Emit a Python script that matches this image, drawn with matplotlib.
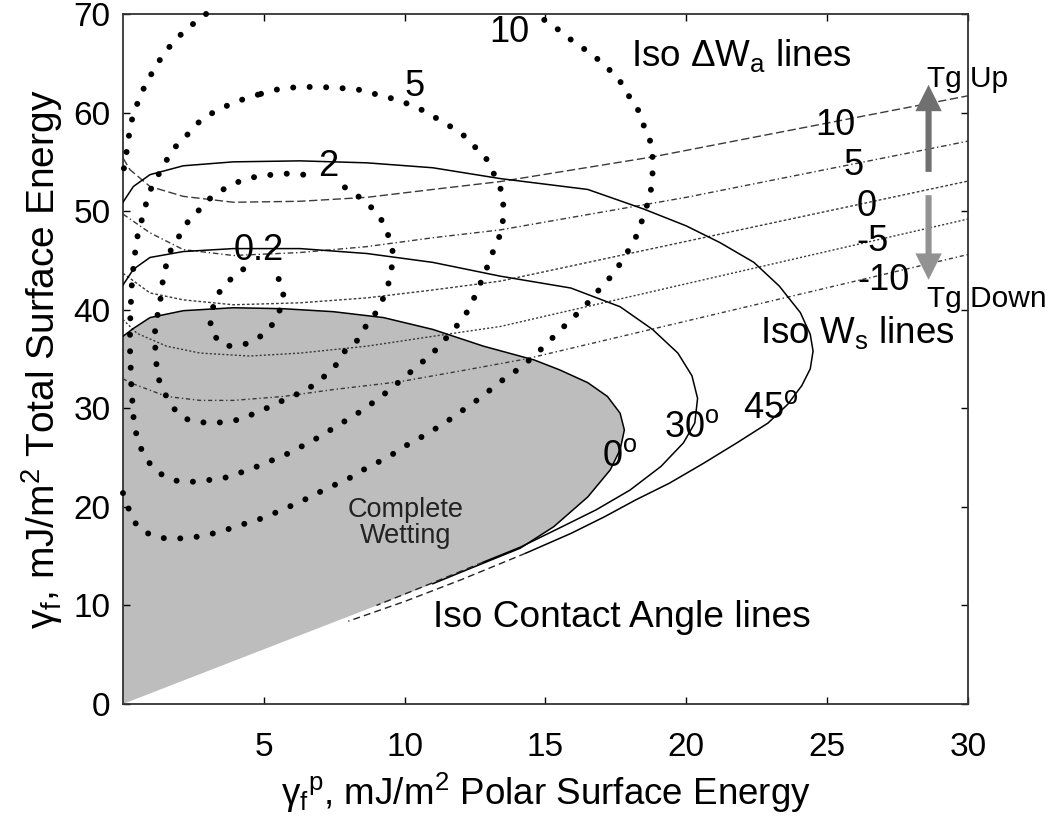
import numpy as np
import matplotlib
matplotlib.use("Agg")
import matplotlib.pyplot as plt
from matplotlib.patches import FancyArrowPatch

plt.rcParams['font.family'] = ['Liberation Sans', 'DejaVu Sans']
plt.rcParams['mathtext.fontset'] = 'custom'
plt.rcParams['mathtext.rm'] = 'Liberation Sans'
plt.rcParams['mathtext.it'] = 'Liberation Sans:italic'
plt.rcParams['mathtext.bf'] = 'Liberation Sans:bold'

# zona de mojado completo (angulo de contacto 0)
mojado = np.array([(0, 0), (11.0, 12.2), (12.2, 13.6), (14.1, 15.8), (15.3, 18.0),
                   (16.5, 21.0), (17.3, 23.75), (17.65, 25.8), (17.8, 27.8), (17.65, 29.5),
                   (17.2, 31.2), (16.5, 32.6), (15.5, 33.9), (14.6, 34.9), (12.8, 36.3),
                   (11.0, 38.0), (9.25, 39.2), (7.47, 39.8), (5.7, 40.1), (3.92, 40.2),
                   (2.14, 39.9), (0.96, 39.2), (0.37, 38.1), (0, 37.3)])

# lineas de angulo de contacto 30 y 45
ang30 = np.array([(0, 42.5), (0.37, 44.1), (0.96, 45.3), (2.14, 45.9), (3.92, 46.2), (6.29, 46.2),
                  (8.66, 45.7), (11.0, 44.8), (13.4, 43.4), (15.9, 42.2), (17.65, 40.3),
                  (18.8, 38.0), (19.7, 35.6), (20.2, 33.3), (20.4, 31.0), (20.3, 28.5),
                  (19.9, 26.5), (19.1, 24.1), (18.0, 21.7), (16.8, 19.7), (15.6, 18.0),
                  (14.1, 15.9), (12.8, 14.4)])
ang45 = np.array([(0, 50.9), (0.37, 52.5), (0.96, 53.7), (2.14, 54.6), (3.92, 55.0), (6.29, 55.1),
                  (8.66, 54.9), (11.0, 54.4), (13.4, 53.3), (16.5, 52.2), (18.5, 50.2),
                  (20.0, 48.5), (21.2, 46.8), (22.4, 44.8), (23.3, 42.4), (24.05, 39.7),
                  (24.4, 37.5), (24.5, 35.8), (24.4, 34.0), (24.1, 32.3), (23.6, 30.4),
                  (22.9, 28.5), (21.8, 26.5), (20.6, 24.4), (19.4, 22.4), (18.2, 20.7),
                  (17.1, 19.0), (15.9, 17.3), (14.7, 15.8), (14.3, 15.3)])
cola30 = np.array([(12.8, 14.4), (11.0, 12.3), (9.0, 10.0)])
cola45 = np.array([(14.3, 15.3), (12.0, 12.6), (10.0, 10.4), (8.0, 8.4)])

# lineas iso Ws
ws_10 = np.array([(0, 55.4), (0.25, 54.2), (0.96, 52.5), (2.14, 51.5), (3.92, 50.9), (6.29, 51.0),
                  (8.66, 51.4), (11.0, 52.2), (13.4, 53.0), (18.8, 55.5), (30, 61.7)])
ws_5 = np.array([(0, 49.7), (0.96, 47.8), (2.14, 46.1), (3.92, 45.5), (6.29, 45.8), (8.66, 46.4),
                 (11.0, 47.3), (13.4, 48.1), (20.0, 51.4), (30, 57.1)])
ws_0 = np.array([(0, 43.7), (0.96, 41.7), (2.14, 41.0), (3.92, 40.5), (6.29, 40.7), (8.66, 41.2),
                 (11.0, 42.0), (13.4, 42.9), (30, 53.05)])
ws_m5 = np.array([(0, 39.0), (0.5, 37.6), (1.55, 36.3), (2.74, 35.6), (4.5, 35.3), (6.29, 35.6),
                  (8.66, 36.3), (11.0, 37.3), (13.4, 38.3), (30, 49.2)])
ws_m10 = np.array([(0, 33.0), (0.25, 32.6), (1.55, 31.2), (2.74, 30.8), (3.92, 30.8), (5.7, 31.2),
                   (7.47, 31.9), (9.84, 32.7), (12.2, 33.9), (14.3, 35.0), (30, 45.6)])
ws_etiquetas = ['10', '5', '0', '-5', '-10']
ws_pos = [(25.3, 58.65), (25.95, 54.6), (26.4, 50.5), (26.6, 46.95), (27.0, 43.0)]

# lineas iso delta Wa (punteadas)
wa_02 = np.array([(4.27, 44.1), (3.98, 43.5), (3.68, 42.7), (3.45, 41.9), (3.27, 41.0), (3.15, 39.7),
                  (3.09, 38.1), (3.39, 36.8), (3.66, 36.3), (4.27, 36.45), (4.63, 36.8),
                  (4.98, 37.5), (5.22, 38.15), (5.46, 39.2), (5.64, 40.5), (5.70, 41.7),
                  (5.58, 42.9), (5.34, 43.9)])
wa_2 = np.array([(6.4, 53.7), (5.8, 53.8), (4.9, 53.6), (4.27, 53.2), (3.68, 52.4), (3.27, 51.7),
                 (2.97, 51.0), (2.74, 50.2), (2.38, 49.3), (2.14, 48.1), (1.96, 47.3), (1.73, 46.3),
                 (1.61, 45.3), (1.43, 43.4), (1.37, 41.7), (1.25, 39.8), (1.14, 38.1), (1.14, 36.6),
                 (1.17, 34.9), (1.25, 33.1), (1.45, 31.7), (1.6, 30.9), (1.88, 29.7), (2.17, 29.0),
                 (2.47, 28.7), (3.05, 28.5), (3.65, 28.6), (4.2, 28.9), (4.6, 29.4), (4.9, 29.8),
                 (5.37, 30.3), (5.8, 31.0), (6.5, 31.8), (7.1, 33.1), (7.6, 34.5), (7.9, 35.9),
                 (8.26, 36.6), (8.5, 37.9), (8.86, 39.1), (9.2, 40.9), (9.4, 42.3), (9.57, 44.7),
                 (9.57, 46.0), (9.4, 47.7), (9.2, 49.0), (8.97, 50.0), (8.4, 51.4), (8.0, 52.2),
                 (7.6, 52.9)])
wa_5 = np.array([(4.9, 61.9), (5.2, 62.2), (5.8, 62.5), (6.4, 62.6), (7.0, 62.6), (7.6, 62.5),
                 (8.2, 62.4), (8.6, 62.2), (9.15, 61.7), (9.6, 61.4), (10.3, 60.7), (10.8, 60.0),
                 (11.2, 59.3), (11.57, 58.7), (11.9, 58.0), (12.2, 57.5), (12.5, 56.5),
                 (12.75, 55.9), (13.0, 54.9), (13.15, 53.9), (13.3, 52.9), (13.5, 51.7),
                 (13.5, 49.4), (13.45, 48.0), (13.3, 47.0), (13.15, 46.0), (13.0, 44.7),
                 (12.8, 43.6), (12.65, 42.3), (12.45, 41.1), (12.2, 39.7), (11.95, 38.7),
                 (11.56, 37.4), (11.0, 35.6), (10.3, 33.9), (9.44, 31.8), (8.56, 29.9), (7.6, 28.2),
                 (6.73, 26.7), (5.78, 25.3), (4.6, 23.9), (3.7, 23.0), (2.77, 22.6), (2.17, 22.5),
                 (1.82, 22.7), (1.37, 23.3), (1.05, 24.0), (0.88, 24.7), (0.66, 25.8), (0.54, 26.8),
                 (0.4, 28.1), (0.34, 30.5), (0.3, 32.0), (0.27, 34.5), (0.25, 36.0), (0.25, 37.5),
                 (0.26, 39.0), (0.28, 40.5), (0.3, 42.0), (0.36, 44.0), (0.44, 46.0), (0.53, 47.7),
                 (0.64, 48.8), (0.75, 50.0), (0.88, 51.4), (1.0, 52.3), (1.2, 53.4), (1.4, 54.4),
                 (1.77, 56.3), (2.05, 57.0), (2.3, 57.8), (2.5, 58.5), (2.8, 59.3), (3.2, 60.0),
                 (3.7, 60.7), (4.4, 61.5), (4.9, 61.9)])
wa_10a = np.array([(2.95, 70.0), (2.6, 69.2), (2.24, 68.5), (1.77, 67.0), (1.52, 66.3), (1.28, 65.2),
                   (1.06, 64.1), (0.88, 63.4), (0.7, 62.2), (0.57, 61.4), (0.4, 60.0), (0.29, 59.0),
                   (0.22, 57.8), (0.15, 56.4), (0.08, 55.1), (0.0, 53.8)])
wa_10b = np.array([(0.0, 21.4), (0.1, 20.5), (0.28, 19.3), (0.4, 18.5), (0.66, 17.6), (1.17, 16.95),
                   (1.52, 16.8), (2.1, 16.8), (2.5, 16.9), (3.06, 17.2), (3.6, 17.6), (4.0, 18.0),
                   (4.9, 18.8), (5.66, 19.7), (6.43, 20.7), (7.26, 21.9), (7.97, 22.8), (8.68, 24.0),
                   (9.39, 25.0), (10.04, 26.2), (10.86, 27.5), (11.57, 28.8), (12.16, 30.0),
                   (12.76, 31.2), (13.3, 32.5), (14.0, 33.9), (14.6, 35.3), (15.2, 37.0),
                   (15.8, 38.7), (16.4, 40.35), (16.8, 41.7), (17.4, 43.6), (17.8, 45.3),
                   (18.2, 47.3), (18.5, 49.6), (18.7, 51.5), (18.8, 53.05), (18.8, 54.6),
                   (18.8, 55.9), (18.7, 57.3), (18.5, 58.6), (18.3, 60.2), (18.0, 61.5),
                   (17.6, 63.4), (17.0, 65.1), (16.4, 66.4), (15.8, 67.6), (15.2, 69.0), (14.6, 70.0)])
wa_etiquetas = ['10', '5', '2', '0.2']
wa_pos = [(13.7, 68.1), (10.35, 62.6), (7.3, 54.5), (4.83, 46.05)]

fig = plt.figure(figsize=(10.5, 8.23), dpi=100)
ax = fig.add_axes([0.1171, 0.1446, 0.8048, 0.8384])

ax.fill(mojado[:, 0], mojado[:, 1], color='#bdbdbd', lw=0, zorder=1)
ax.plot(mojado[1:, 0], mojado[1:, 1], color='k', lw=1.1, zorder=3)
ax.plot(ang30[:, 0], ang30[:, 1], color='k', lw=1.1, zorder=3)
ax.plot(ang45[:, 0], ang45[:, 1], color='k', lw=1.1, zorder=3)
for cola in [cola30, cola45]:
    ax.plot(cola[:, 0], cola[:, 1], color='#222222', lw=1.0, ls=(0, (5, 3)), zorder=3)

estilos = [(0, (6, 2.5)), (0, (4, 2, 1, 2)), (0, (2, 1.5)), (0, (1.5, 1.5)), (0, (3, 2, 1, 2))]
for linea, est in zip([ws_10, ws_5, ws_0, ws_m5, ws_m10], estilos):
    ax.plot(linea[:, 0], linea[:, 1], color='#3a3a3a', lw=1.0, ls=est, zorder=2)
for txt, (x, y) in zip(ws_etiquetas, ws_pos):
    ax.text(x, y, txt, fontsize=26, ha='center', va='center', zorder=6)

for curva in [wa_02, wa_2, wa_5, wa_10a, wa_10b]:
    ax.plot(curva[:, 0], curva[:, 1], color='k', lw=4.3, ls=(0, (0.01, 2.75)),
            dash_capstyle='round', zorder=4, clip_on=False)
for txt, (x, y) in zip(wa_etiquetas, wa_pos):
    ax.text(x, y, txt, fontsize=26, ha='center', va='center', zorder=6)

# etiquetas de angulo
ax.text(17.65, 25.1, r'0$^\mathrm{o}$', fontsize=26, ha='center', va='center', zorder=6)
ax.text(20.2, 28.0, r'30$^\mathrm{o}$', fontsize=26, ha='center', va='center', zorder=6)
ax.text(23.0, 30.0, r'45$^\mathrm{o}$', fontsize=26, ha='center', va='center', zorder=6)

ax.text(18.05, 64.7, r'Iso $\Delta$W$_\mathrm{a}$ lines', fontsize=26.5, ha='left', va='baseline')
ax.text(22.6, 36.6, r'Iso W$_\mathrm{s}$ lines', fontsize=26.5, ha='left', va='baseline')
ax.text(11.0, 7.8, 'Iso Contact Angle lines', fontsize=26.7, ha='left', va='baseline')
ax.text(10.05, 18.4, 'Complete\nWetting', fontsize=19.5, ha='center', va='center',
        linespacing=1.0, color='#222222')

# flechas Tg
ax.add_patch(FancyArrowPatch((28.6, 53.7), (28.6, 63.1), arrowstyle='simple,head_length=0.95,head_width=0.95,tail_width=0.22',
                             mutation_scale=20, color='#707070', lw=0, zorder=5))
ax.add_patch(FancyArrowPatch((28.6, 51.9), (28.6, 42.75), arrowstyle='simple,head_length=0.95,head_width=0.95,tail_width=0.22',
                             mutation_scale=20, color='#929292', lw=0, zorder=5))
ax.text(28.55, 62.6, 'Tg Up', fontsize=21.5, ha='left', va='baseline')
ax.text(28.55, 40.3, 'Tg Down', fontsize=21.5, ha='left', va='baseline')

ax.set_xlim(0, 30)
ax.set_ylim(0, 70)
ax.set_xticks([5, 10, 15, 20, 25, 30])
ax.set_yticks([0, 10, 20, 30, 40, 50, 60, 70])
ax.tick_params(direction='in', top=True, right=True, length=5, width=1, labelsize=24)
ax.tick_params(axis='x', pad=20)
ax.tick_params(axis='y', pad=9)
for s in ax.spines.values():
    s.set_linewidth(1.3)
    s.set_color('#333333')

ax.set_xlabel(r'γ$_\mathrm{f}$$^\mathrm{p}$, mJ/m$^2$ Polar Surface Energy', fontsize=26.5, labelpad=6)
ax.set_ylabel(r'γ$_\mathrm{f}$, mJ/m$^2$ Total Surface Energy', fontsize=28, labelpad=6)

fig.savefig('out.png', dpi=100)
